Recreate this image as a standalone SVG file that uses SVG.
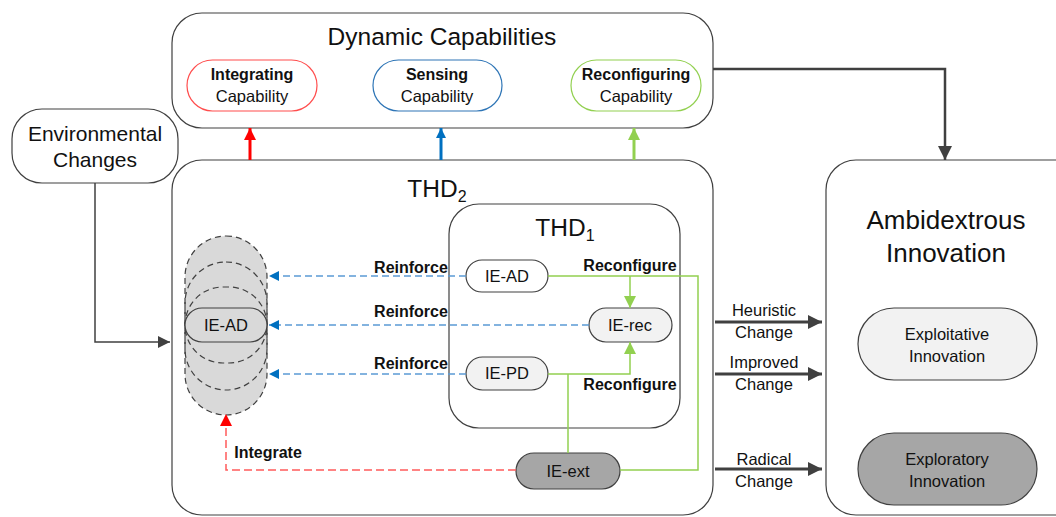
<svg xmlns="http://www.w3.org/2000/svg" width="1056" height="517" viewBox="0 0 1056 517">
<style>
text{font-family:"Liberation Sans",Arial,sans-serif;fill:#111;text-anchor:middle}
.box{fill:#fff;stroke:#404040;stroke-width:1.2}
.t22{font-size:24.5px}
.t19{font-size:21px}
.t15{font-size:16.5px}
.b{font-weight:bold;font-size:16px}
.node{stroke:#404040;stroke-width:1.2}
.dash{fill:#d9d9d9;stroke:#404040;stroke-width:1.2;stroke-dasharray:6 4}
.dashn{fill:none;stroke:#404040;stroke-width:1.2;stroke-dasharray:6 4}
.blue{fill:none;stroke:#5B9BD5;stroke-width:1.5;stroke-dasharray:7 4}
.green{fill:none;stroke:#92D050;stroke-width:1.5}
.red{fill:none;stroke:#FF5B5B;stroke-width:1.5;stroke-dasharray:8 4}
.gray{fill:none;stroke:#404040;stroke-width:3}
</style>
<defs>
<marker id="ab" viewBox="0 0 10 10" refX="10" refY="5" markerWidth="10" markerHeight="10" markerUnits="userSpaceOnUse" orient="auto"><path d="M0,0L10,5L0,10z" fill="#0070C0"/></marker>
<marker id="ag" viewBox="0 0 10 10" refX="10" refY="5" markerWidth="12" markerHeight="12" markerUnits="userSpaceOnUse" orient="auto"><path d="M0,0L10,5L0,10z" fill="#92D050"/></marker>
<marker id="ar" viewBox="0 0 10 10" refX="10" refY="5" markerWidth="12" markerHeight="12" markerUnits="userSpaceOnUse" orient="auto"><path d="M0,0L10,5L0,10z" fill="#FF0000"/></marker>
<marker id="ad" viewBox="0 0 10 10" refX="10" refY="5" markerWidth="14" markerHeight="14" markerUnits="userSpaceOnUse" orient="auto"><path d="M0,0L10,5L0,10z" fill="#404040"/></marker>
<marker id="ad2" viewBox="0 0 10 10" refX="10" refY="5" markerWidth="12" markerHeight="12" markerUnits="userSpaceOnUse" orient="auto"><path d="M0,0L10,5L0,10z" fill="#404040"/></marker>
</defs>

<g id="dynamic-capabilities">
<rect class="box" x="172" y="13" width="541" height="115" rx="30"/>
<text class="t22" x="442" y="45">Dynamic Capabilities</text>
</g>
<g id="integrating">
<rect x="187" y="60" width="130" height="51" rx="25.5" fill="#fff" stroke="#FF4D4D" stroke-width="1.2"/>
<text class="t15 b" x="252" y="80">Integrating</text>
<text class="t15" x="252" y="102">Capability</text>
</g>
<g id="sensing">
<rect x="373" y="60" width="129" height="51" rx="25.5" fill="#fff" stroke="#2E75B6" stroke-width="1.2"/>
<text class="t15 b" x="437" y="80">Sensing</text>
<text class="t15" x="437" y="102">Capability</text>
</g>
<g id="reconfiguring">
<rect x="571" y="60" width="130" height="51" rx="25.5" fill="#fff" stroke="#92D050" stroke-width="1.2"/>
<text class="t15 b" x="636" y="80">Reconfiguring</text>
<text class="t15" x="636" y="102">Capability</text>
</g>

<g id="environmental-changes">
<rect class="box" x="12" y="109" width="166" height="74" rx="30"/>
<text class="t19" x="95" y="141">Environmental</text>
<text class="t19" x="95" y="167">Changes</text>
</g>

<g id="thd2">
<rect class="box" x="172" y="160" width="541" height="355" rx="30"/>
<text class="t22" x="437" y="197">THD<tspan font-size="16" dy="5">2</tspan></text>
</g>

<g id="ambidextrous-innovation">
<rect class="box" x="826" y="160" width="260" height="355" rx="30"/>
<text font-size="26" x="946" y="229">Ambidextrous</text>
<text font-size="26" x="946" y="262">Innovation</text>
</g>
<g id="exploitative">
<rect class="node" x="858" y="308" width="179" height="72" rx="36" fill="#f2f2f2"/>
<text class="t15" x="947" y="340">Exploitative</text>
<text class="t15" x="947" y="362">Innovation</text>
</g>
<g id="exploratory">
<rect class="node" x="858" y="433" width="179" height="72" rx="36" fill="#a6a6a6"/>
<text class="t15" x="947" y="465">Exploratory</text>
<text class="t15" x="947" y="487">Innovation</text>
</g>

<g id="ie-ad-stack">
<rect class="dash" x="185" y="236" width="82" height="179" rx="41"/>
<rect class="dashn" x="185" y="262" width="82" height="128" rx="41"/>
<rect class="dashn" x="185" y="287" width="82" height="76" rx="38"/>
<rect class="node" x="185" y="308" width="82" height="34" rx="17" fill="#d9d9d9"/>
<text class="t15" x="226" y="331">IE-AD</text>
</g>

<g id="thd1">
<rect class="box" x="449" y="204" width="231" height="224" rx="30"/>
<text class="t22" x="565" y="236">THD<tspan font-size="16" dy="5">1</tspan></text>
</g>
<g id="ie-ad">
<rect class="node" x="466" y="260" width="82" height="32" rx="16" fill="#fff"/>
<text class="t15" x="507" y="282">IE-AD</text>
</g>
<g id="ie-rec">
<rect class="node" x="589" y="308" width="83" height="34" rx="17" fill="#f2f2f2"/>
<text class="t15" x="630" y="331">IE-rec</text>
</g>
<g id="ie-pd">
<rect class="node" x="466" y="357" width="82" height="33" rx="16.5" fill="#f2f2f2"/>
<text class="t15" x="507" y="379">IE-PD</text>
</g>
<g id="ie-ext">
<rect class="node" x="516" y="453" width="104" height="36" rx="18" fill="#a6a6a6"/>
<text class="t15" x="568" y="477">IE-ext</text>
</g>

<g id="connectors">
<line x1="250" y1="160" x2="250" y2="128" stroke="#FF0000" stroke-width="3" marker-end="url(#ar)"/>
<line x1="441" y1="160" x2="441" y2="128" stroke="#0070C0" stroke-width="3" marker-end="url(#ab)"/>
<line x1="634" y1="160" x2="634" y2="128" stroke="#92D050" stroke-width="3" marker-end="url(#ag)"/>
<path d="M713,69H945V160" fill="none" stroke="#404040" stroke-width="2.5" marker-end="url(#ad)"/>
<path d="M95,183V342H170" fill="none" stroke="#404040" stroke-width="1.5" marker-end="url(#ad2)"/>

<path class="blue" d="M466,276H269" marker-end="url(#ab)"/>
<path class="blue" d="M589,325H269" marker-end="url(#ab)"/>
<path class="blue" d="M466,374H269" marker-end="url(#ab)"/>

<path class="green" d="M548,276H698V470H620"/>
<path class="green" d="M630,276V308" marker-end="url(#ag)"/>
<path class="green" d="M548,374H630V342" marker-end="url(#ag)"/>
<path class="green" d="M568,374V453"/>

<path class="red" d="M516,470H226V414" marker-end="url(#ar)"/>

<path class="gray" d="M715,322H822" marker-end="url(#ad)"/>
<path class="gray" d="M715,374H822" marker-end="url(#ad)"/>
<path class="gray" d="M715,469H822" marker-end="url(#ad)"/>

<text class="b" x="411" y="273">Reinforce</text>
<text class="b" x="411" y="317">Reinforce</text>
<text class="b" x="411" y="369">Reinforce</text>
<text class="b" x="630" y="271">Reconfigure</text>
<text class="b" x="630" y="390">Reconfigure</text>
<text class="b" x="268" y="458">Integrate</text>
<text class="t15" x="764" y="316">Heuristic</text>
<text class="t15" x="764" y="338">Change</text>
<text class="t15" x="764" y="368">Improved</text>
<text class="t15" x="764" y="390">Change</text>
<text class="t15" x="764" y="465">Radical</text>
<text class="t15" x="764" y="487">Change</text>
</g>
</svg>
